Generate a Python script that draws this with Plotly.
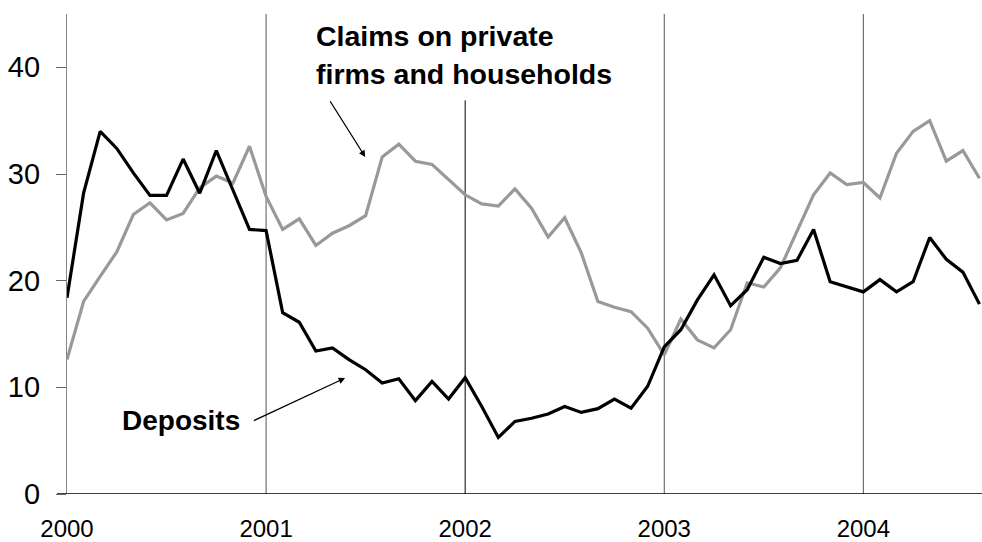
import plotly.graph_objects as go

# Monthly growth rates, January 2000 onwards (per cent, year on year)
months = list(range(56))
deposits = [18.4, 28.2, 34.0, 32.4, 30.1, 28.0, 28.0, 31.4, 28.2, 32.2,
            28.5, 24.8, 24.7, 17.0, 16.1, 13.4, 13.7, 12.6, 11.65, 10.4,
            10.8, 8.75, 10.55, 8.9, 10.9, 8.2, 5.3, 6.8, 7.1, 7.5,
            8.2, 7.65, 8.0, 8.9, 8.05, 10.1, 13.8, 15.4, 18.2, 20.55,
            17.65, 19.15, 22.2, 21.6, 21.9, 24.8, 19.9, 19.4, 18.95, 20.1,
            18.95, 19.9, 24.05, 22.0, 20.8, 17.8]
claims = [12.6, 18.05, 20.4, 22.7, 26.2, 27.3, 25.7, 26.3, 28.7, 29.8,
          29.15, 32.6, 27.9, 24.8, 25.8, 23.3, 24.45, 25.15, 26.1, 31.6,
          32.8, 31.2, 30.9, 29.5, 28.05, 27.2, 27.0, 28.6, 26.8, 24.1,
          25.9, 22.6, 18.05, 17.5, 17.1, 15.55, 13.05, 16.4, 14.45, 13.7,
          15.4, 19.8, 19.4, 21.2, 24.6, 28.05, 30.1, 29.0, 29.2, 27.75,
          31.95, 34.0, 35.0, 31.2, 32.2, 29.6]
year_ticks = [2000, 2001, 2002, 2003, 2004]
y_ticks = [0, 10, 20, 30, 40]

x = [2000 + m / 12 for m in months]

FONT = "Arial, Liberation Sans, sans-serif"

fig = go.Figure()
fig.add_trace(go.Scatter(x=x, y=claims, mode="lines", name="Claims on private firms and households",
                         line=dict(color="#999999", width=3.2), cliponaxis=True))
fig.add_trace(go.Scatter(x=x, y=deposits, mode="lines", name="Deposits",
                         line=dict(color="#000000", width=3.2), cliponaxis=True))

shapes = []
# year separators
for yr in [2001, 2003, 2004]:
    shapes.append(dict(type="line", xref="x", yref="y", x0=yr, x1=yr, y0=0, y1=45,
                       line=dict(color="#555555", width=1), layer="below"))
shapes.append(dict(type="line", xref="x", yref="y", x0=2002, x1=2002, y0=0, y1=36.9,
                   line=dict(color="#000000", width=1), layer="below"))
# baseline, running out under the y-axis tick
shapes.append(dict(type="line", xref="paper", yref="y", x0=-10 / 915, x1=1, y0=0, y1=0,
                   line=dict(color="#000000", width=1.3)))

annotations = [
    dict(x=2001.243, y=42.97, xref="x", yref="y", text="<b>Claims on private</b>",
         showarrow=False, xanchor="left", yanchor="middle",
         font=dict(family=FONT, size=28.5, color="black")),
    dict(x=2001.243, y=39.35, xref="x", yref="y", text="<b>firms and households</b>",
         showarrow=False, xanchor="left", yanchor="middle",
         font=dict(family=FONT, size=28.5, color="black")),
    dict(x=2000.268, y=6.87, xref="x", yref="y", text="<b>Deposits</b>",
         showarrow=False, xanchor="left", yanchor="middle",
         font=dict(family=FONT, size=28, color="black")),
    # pointers
    dict(x=2001.498, y=31.6, ax=2001.317, ay=36.96, xref="x", yref="y", axref="x", ayref="y",
         text="", showarrow=True, arrowhead=2, arrowsize=1, arrowwidth=1.3, arrowcolor="black",
         standoff=0, startstandoff=0),
    dict(x=2001.397, y=10.87, ax=2000.931, ay=6.81, xref="x", yref="y", axref="x", ayref="y",
         text="", showarrow=True, arrowhead=2, arrowsize=1, arrowwidth=1.3, arrowcolor="black",
         standoff=0, startstandoff=0),
]

fig.update_layout(
    width=982, height=542,
    margin=dict(l=67, r=0, t=14, b=48, pad=0, autoexpand=False),
    paper_bgcolor="white", plot_bgcolor="white",
    showlegend=False,
    shapes=shapes, annotations=annotations,
    font=dict(family=FONT, color="black"),
)
fig.update_xaxes(range=[2000, 2000 + 915.3 / 199.15], tickvals=year_ticks,
                 ticktext=[str(v) for v in year_ticks],
                 showgrid=False, zeroline=False, showline=False, ticks="",
                 automargin=False,
                 tickfont=dict(family=FONT, size=24, color="black"),
                 ticklabelstandoff=18)
fig.update_yaxes(range=[0, 45], tickvals=y_ticks, showgrid=False, zeroline=False,
                 showline=True, linecolor="#888888", linewidth=1.3, automargin=False,
                 ticks="outside", ticklen=10, tickcolor="#666666", tickwidth=1,
                 tickfont=dict(family=FONT, size=29, color="black"),
                 ticklabelstandoff=10)

fig.write_html("out.html")
